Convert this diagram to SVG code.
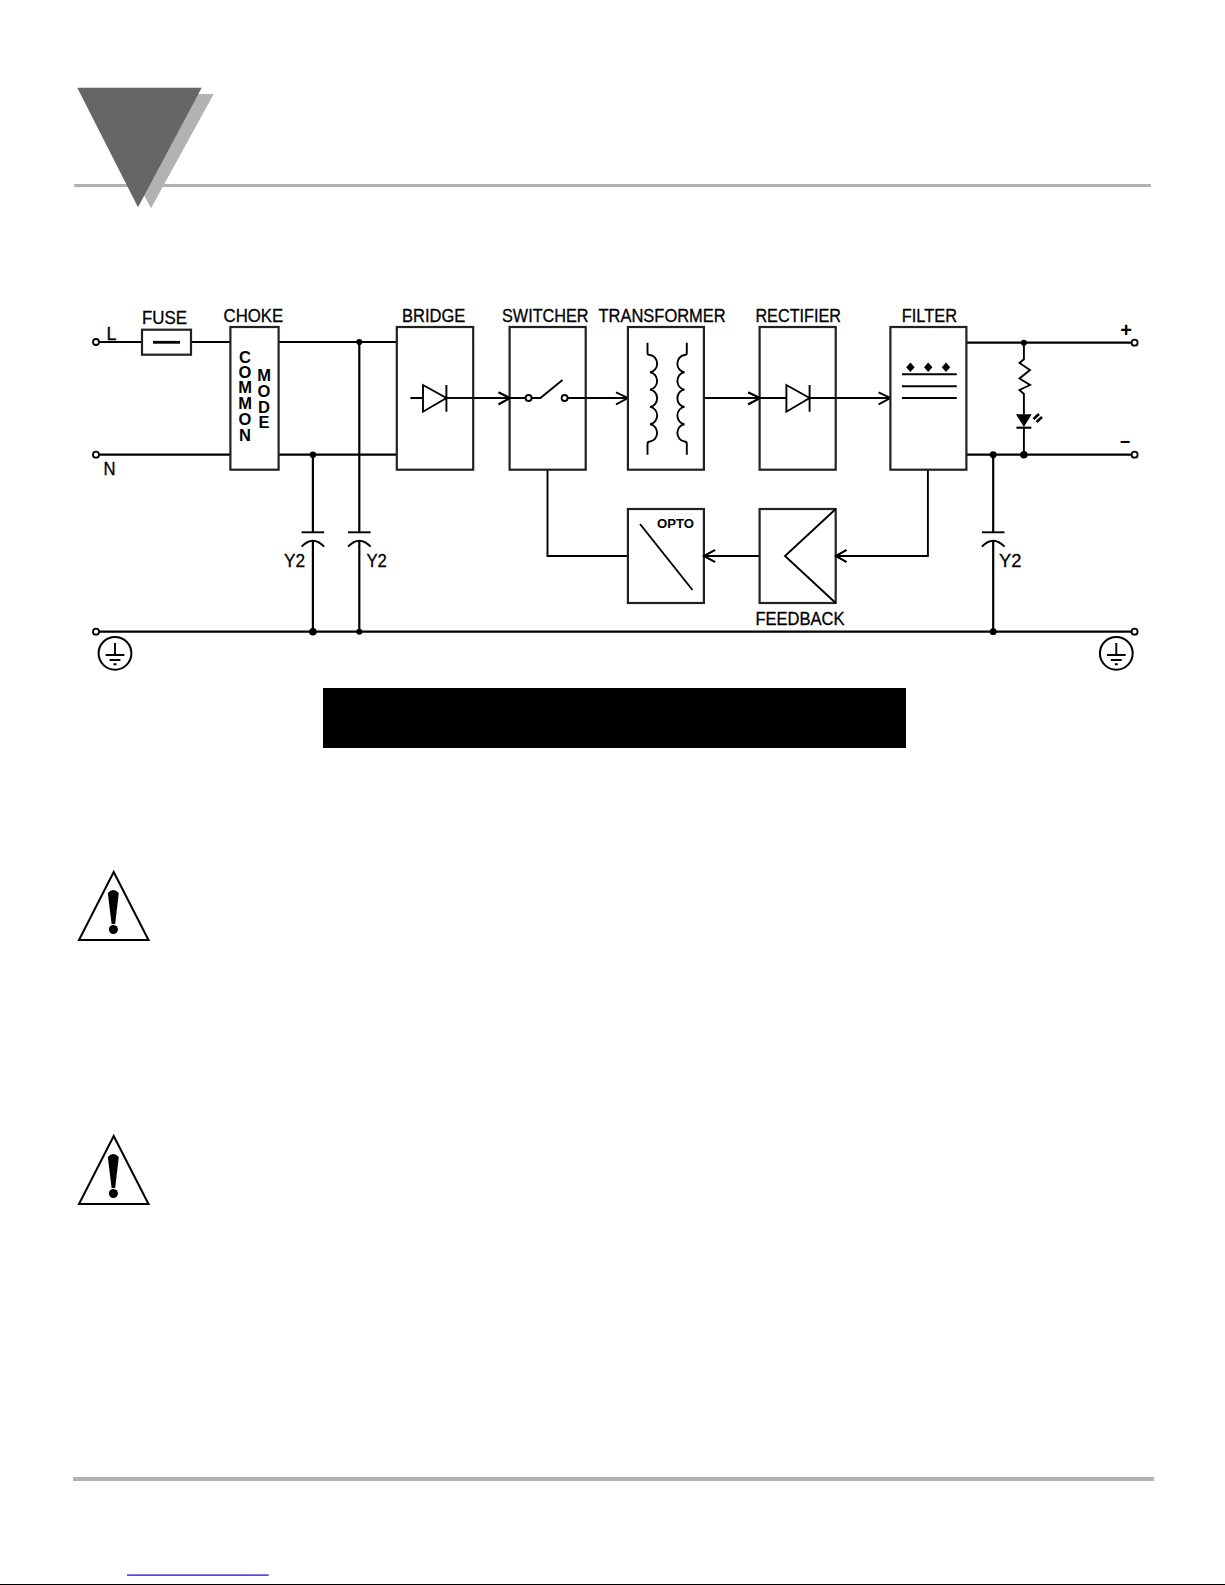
<svg xmlns="http://www.w3.org/2000/svg" width="1225" height="1585" viewBox="0 0 1225 1585">
<style>
.w{fill:none;stroke:#000;stroke-width:2.2}
.b{fill:#fff;stroke:#222;stroke-width:2.2}
.s{fill:none;stroke:#000;stroke-width:1.9}
.t{fill:#fff;stroke:#000;stroke-width:1.8}
.d{fill:#000}
.r{fill:#b2b2b2}
text{font-family:"Liberation Sans",Arial,sans-serif;fill:#000}
.l{font-size:17.5px;stroke:#000;stroke-width:.3}
.v{font-size:16.5px;font-weight:bold;text-anchor:middle}
</style>
<defs>
<g id="cap"><path d="M-11.3 0H11.3" class="s"/><path d="M-11.3 14.4Q0 2.5 11.3 14.4" class="s"/></g>
<g id="gnd"><circle r="16.4" fill="none" stroke="#000" stroke-width="2"/><path d="M0 -10.3V1.7M-9.4 1.7H9.4M-5.4 6.7H5.4M-1.5 11H1.5" class="s"/></g>
<g id="warn"><path d="M113.7 872L79 940H148.5L113.7 872Z" fill="#fff" stroke="#000" stroke-width="2"/><path d="M107.8 893Q113.2 887 118.8 893L115.2 924H111.6Z" class="d"/><circle cx="113.4" cy="929.5" r="4.5" class="d"/></g>
</defs>

<g id="header">
<rect x="74" y="184" width="1077" height="3" class="r"/>
<polygon points="90,94 213.7,94 151,208.3" class="r"/>
<polygon points="77.3,87.7 201.7,87.7 138,207.3" fill="#666"/>
</g>

<g id="connectors">
<path class="w" d="M99 342H142M191 342H230M278.6 342H397M99 454.7H230M278.6 454.7H397M99 631.7H1131.5"/>
<path class="w" d="M312.9 454.7V532.3M312.9 541V631.7M359.3 342V532.3M359.3 541V631.7"/>
<path class="w" d="M967 342.7H1131.5M967 454.7H1131.5M993.2 454.7V532.3M993.2 541V631.7"/>
<path class="s" d="M446.4 398H510M498.6 392.4L510 398L498.6 404.4"/>
<path class="s" d="M568 398H628M616 392.4L628 398L616 404.4"/>
<path class="s" d="M704 398H760M748.2 392.4L760 398L748.2 404.4"/>
<path class="s" d="M810 398H890.4M878.6 392.4L890.4 398L878.6 404.4"/>
<path class="s" d="M547.5 470V556H628"/>
<path class="s" d="M927.9 470V556H836M846.4 550L836 556L846.4 562"/>
<path class="s" d="M760 556H704M715 550L704 556L715 562"/>
<path class="s" d="M1023.9 342.7V359.3L1019.5 363L1030 370L1019.5 378.5L1030 385L1019.5 390L1023.9 394V414.3M1023.9 427.7V454.7"/>
</g>

<g id="term-L"><circle cx="96" cy="342" r="3" class="t"/><text class="l" x="106.5" y="339.5" textLength="10" lengthAdjust="spacingAndGlyphs">L</text></g>
<g id="term-N"><circle cx="96" cy="454.7" r="3" class="t"/><text class="l" x="103.5" y="475.3" textLength="12" lengthAdjust="spacingAndGlyphs">N</text></g>
<g id="term-PE-left"><circle cx="96" cy="631.7" r="3" class="t"/><use href="#gnd" x="115" y="653.3"/></g>
<g id="term-plus"><circle cx="1134.6" cy="342.7" r="3" class="t"/><text x="1126" y="337" font-size="20" font-weight="bold" text-anchor="middle">+</text></g>
<g id="term-minus"><circle cx="1134.6" cy="454.7" r="3" class="t"/><text x="1125" y="448" font-size="18" font-weight="bold" text-anchor="middle">−</text></g>
<g id="term-PE-right"><circle cx="1134.6" cy="631.7" r="3" class="t"/><use href="#gnd" x="1116.3" y="653.3"/></g>

<g id="fuse"><rect x="142" y="329.7" width="49" height="25" class="b"/><path d="M153 342.3H180" fill="none" stroke="#000" stroke-width="2.8"/><text class="l" x="142" y="324.3" textLength="45" lengthAdjust="spacingAndGlyphs">FUSE</text></g>

<g id="choke"><rect x="230.4" y="327" width="48.2" height="142.7" class="b"/>
<text class="l" x="223.6" y="322" textLength="59.6" lengthAdjust="spacingAndGlyphs">CHOKE</text>
<text class="v" x="245 245 245 245 245 245" y="362.5 377.5 393 409 425 440.7">COMMON</text>
<text class="v" x="264 264 264 264" y="381.4 397 412.7 428.4">MODE</text></g>

<g id="bridge"><rect x="396.8" y="327" width="76.4" height="142.7" class="b"/>
<path class="s" d="M410.4 398H423M423 385V411.7L446.4 398ZM446.4 385V411.7"/>
<path class="s" d="M446.4 398H473"/>
<text class="l" x="402" y="322" textLength="63.4" lengthAdjust="spacingAndGlyphs">BRIDGE</text></g>

<g id="switcher"><rect x="509.6" y="327" width="76.1" height="142.7" class="b"/>
<path class="s" d="M510 398H525.6M531.4 398H540.4L562.5 380M567.6 398H586"/>
<path class="s" d="M498.6 392.4L510 398L498.6 404.4"/>
<circle cx="528.6" cy="398" r="3" class="t"/><circle cx="564.6" cy="398" r="3" class="t"/>
<text class="l" x="502" y="322" textLength="86.6" lengthAdjust="spacingAndGlyphs">SWITCHER</text></g>

<g id="transformer"><rect x="627.9" y="327" width="76" height="142.7" class="b"/>
<path class="s" d="M647.5 342.7V353Q647.5 355 650 355A8 8.7 0 0 1 650 372.3A8 8.7 0 0 1 650 389.6A8 8.7 0 0 1 650 406.9A8 8.7 0 0 1 650 424.2A8 8.7 0 0 1 650 441.5Q647.5 441.5 647.5 444V454.7"/>
<path class="s" d="M686.8 342.7V353Q686.8 355 684.5 355A8 8.7 0 0 0 684.5 372.3A8 8.7 0 0 0 684.5 389.6A8 8.7 0 0 0 684.5 406.9A8 8.7 0 0 0 684.5 424.2A8 8.7 0 0 0 684.5 441.5Q686.8 441.5 686.8 444V454.7"/>
<text class="l" x="598.5" y="322" textLength="127.2" lengthAdjust="spacingAndGlyphs">TRANSFORMER</text></g>

<g id="rectifier"><rect x="759.6" y="327" width="76.1" height="142.7" class="b"/>
<path class="s" d="M760 398H786.4M786.4 385V411.7L809.6 398ZM809.6 385V411.7M809.6 398H836"/>
<path class="s" d="M748.2 392.4L760 398L748.2 404.4"/>
<text class="l" x="755.4" y="322" textLength="85.6" lengthAdjust="spacingAndGlyphs">RECTIFIER</text></g>

<g id="filter"><rect x="890.4" y="327" width="76" height="142.7" class="b"/>
<path class="s" d="M902 374.3H956.8M902 386.3H956.8M902 398H956.8"/>
<path class="d" d="M910.4 362.5L914.6 367.3L910.4 372.1L906.2 367.3ZM928.2 362.5L932.4 367.3L928.2 372.1L924 367.3ZM946 362.5L950.2 367.3L946 372.1L941.8 367.3Z"/>
<text class="l" x="901.8" y="322" textLength="55.2" lengthAdjust="spacingAndGlyphs">FILTER</text></g>

<g id="opto"><rect x="627.9" y="509" width="76" height="94" class="b"/>
<path class="s" d="M640 524L692.5 590"/>
<text x="657" y="528" font-size="13.5" font-weight="bold" textLength="37" lengthAdjust="spacingAndGlyphs">OPTO</text>
<path class="s" d="M715 550L704 556L715 562"/></g>

<g id="feedback"><rect x="759.6" y="509" width="76.1" height="94" class="b"/>
<path class="s" d="M835.7 509L785 556L835.7 603"/>
<path class="s" d="M846.4 550L836 556L846.4 562"/>
<text class="l" x="755.4" y="625.3" textLength="89.2" lengthAdjust="spacingAndGlyphs">FEEDBACK</text></g>

<g id="cap-1"><use href="#cap" x="312.9" y="532.3"/><text class="l" x="284" y="566.7" textLength="21" lengthAdjust="spacingAndGlyphs">Y2</text></g>
<g id="cap-2"><use href="#cap" x="359.3" y="532.3"/><text class="l" x="366.4" y="566.7" textLength="20.4" lengthAdjust="spacingAndGlyphs">Y2</text></g>
<g id="cap-3"><use href="#cap" x="993.2" y="532.3"/><text class="l" x="999" y="566.7" textLength="22.4" lengthAdjust="spacingAndGlyphs">Y2</text></g>

<g id="led"><path class="d" d="M1016 414.3H1031.7L1023.9 427Z"/><path d="M1016.5 427.7H1031.3" fill="none" stroke="#000" stroke-width="2.2"/>
<path d="M1033.5 419L1039 414M1036.5 422L1042 417" fill="none" stroke="#000" stroke-width="2.6"/></g>

<g id="junctions" class="d">
<circle cx="359.3" cy="342" r="3"/><circle cx="312.9" cy="454.7" r="3.2"/>
<circle cx="312.9" cy="631.7" r="3.8"/><circle cx="359.3" cy="631.7" r="3"/>
<circle cx="1023.9" cy="342.7" r="3"/><circle cx="993.2" cy="454.7" r="3.4"/>
<circle cx="1023.9" cy="454.7" r="3.8"/><circle cx="993.2" cy="631.7" r="3.4"/>
</g>

<rect id="caption-bar" x="323" y="688" width="583" height="60" fill="#000"/>

<g id="warning-1"><use href="#warn"/></g>
<g id="warning-2"><use href="#warn" y="264"/></g>

<g id="footer">
<rect x="73" y="1477" width="1081" height="4" class="r"/>
<rect x="127" y="1574.5" width="141.7" height="1.2" fill="#0000e0"/>
<rect x="0" y="1584" width="1225" height="1" fill="#000"/>
</g>
</svg>
